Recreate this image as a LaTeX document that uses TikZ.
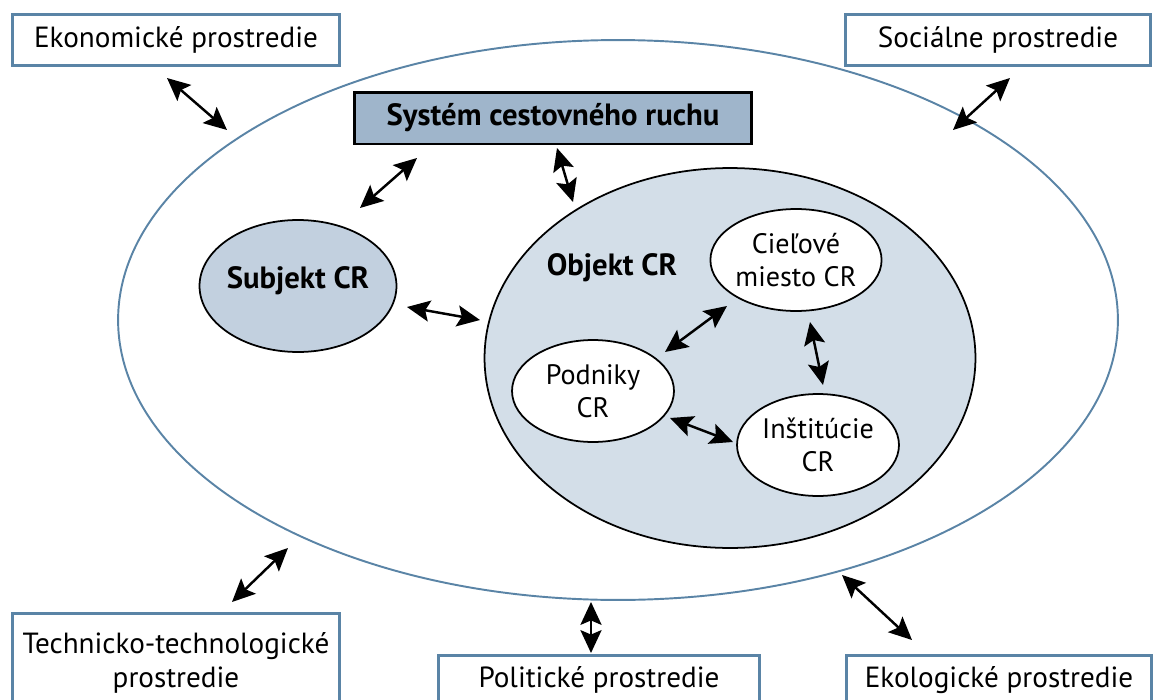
\documentclass[tikz,border=0pt]{standalone}
\usepackage{fontspec}
\setmainfont{PT Sans}
\usetikzlibrary{arrows.meta}
\usetikzlibrary{shapes.geometric}

\definecolor{envblue}{HTML}{5A84A6}
\definecolor{sysfill}{HTML}{9FB5CB}
\definecolor{subfill}{HTML}{C2D0DF}
\definecolor{objfill}{HTML}{D3DEE8}

\begin{document}
\begin{tikzpicture}[x=0.02cm,y=-0.02cm,line cap=round]
\tikzset{envbox/.style={draw=envblue,line width=1.7pt,fill=white,align=center,
        inner sep=0pt,font=\fontsize{16.6}{19.5}\selectfont}}
\tikzset{innerell/.style={ellipse,draw=black,line width=1pt,fill=white,align=center,
        inner sep=0pt,minimum width=3.24cm,minimum height=2.04cm,
        font=\fontsize{16}{18.8}\selectfont}}
\tikzset{boldlbl/.style={font=\fontsize{17.5}{20}\selectfont\bfseries}}
\tikzset{biarrow/.style={line width=1.4pt,
        {Stealth[length=13pt,width=12pt,inset=2.5pt]}-{Stealth[length=13pt,width=12pt,inset=2.5pt]}}}

\useasboundingbox (0,0) rectangle (1154,700);

% okolie
\node[ellipse,draw=envblue,line width=1.1pt,minimum width=20cm,minimum height=11.2cm] (outer) at (618,320) {};

\node[envbox,minimum width=6.56cm,minimum height=1.02cm] (eko) at (176,40) {Ekonomické prostredie};
\node[envbox,minimum width=6.12cm,minimum height=1.02cm] (soc) at (998,40) {Sociálne prostredie};
\node[envbox,minimum width=6.56cm,minimum height=2cm] (tech) at (176,663) {Technicko-technologické\\prostredie};
\node[envbox,minimum width=6.44cm,minimum height=1cm] (pol) at (599,680) {Politické prostredie};
\node[envbox,minimum width=6.12cm,minimum height=1cm] (ekol) at (999,680) {Ekologické prostredie};

% system
\node[draw=black,line width=1.7pt,fill=sysfill,minimum width=7.94cm,minimum height=1.04cm,
      boldlbl] (sys) at (553,118) {Systém cestovného ruchu};
\node[ellipse,draw=black,line width=1pt,fill=subfill,minimum width=3.94cm,minimum height=2.64cm] (subj) at (298,286) {};
\node[boldlbl] (subjlbl) at (298,281) {Subjekt CR};
\node[ellipse,draw=black,line width=1pt,fill=objfill,minimum width=9.82cm,minimum height=7.6cm] (obj) at (730,358) {};
\node[boldlbl] (objlbl) at (612,268) {Objekt CR};

\node[innerell] (ciel) at (796,260) {Cieľové\\miesto CR};
\node[innerell] (podn) at (593,391) {Podniky\\CR};
\node[innerell] (inst) at (818,445) {Inštitúcie\\CR};

% koncove body sipok
\coordinate (e1) at (167,78);   \coordinate (e2) at (227,130);
\coordinate (s1) at (1010,78);  \coordinate (s2) at (953,130);
\coordinate (t1) at (288,548);  \coordinate (t2) at (232,602);
\coordinate (p1) at (591,602);  \coordinate (p2) at (591,653);
\coordinate (k1) at (842,575);  \coordinate (k2) at (912,640);
\coordinate (y1) at (417,158);  \coordinate (y2) at (360,208);
\coordinate (y3) at (557,148);  \coordinate (y4) at (573,202);
\coordinate (so1) at (407,307); \coordinate (so2) at (480,320);
\coordinate (cp1) at (727,306); \coordinate (cp2) at (665,352);
\coordinate (ci1) at (810,322); \coordinate (ci2) at (823,385);
\coordinate (pi1) at (670,418); \coordinate (pi2) at (733,442);

\draw[biarrow] (e1) -- (e2);
\draw[biarrow] (s1) -- (s2);
\draw[biarrow] (t1) -- (t2);
\draw[biarrow] (p1) -- (p2);
\draw[biarrow] (k1) -- (k2);
\draw[biarrow] (y1) -- (y2);
\draw[biarrow] (y3) -- (y4);
\draw[biarrow] (so1) -- (so2);
\draw[biarrow] (cp1) -- (cp2);
\draw[biarrow] (ci1) -- (ci2);
\draw[biarrow] (pi1) -- (pi2);
\end{tikzpicture}
\end{document}
